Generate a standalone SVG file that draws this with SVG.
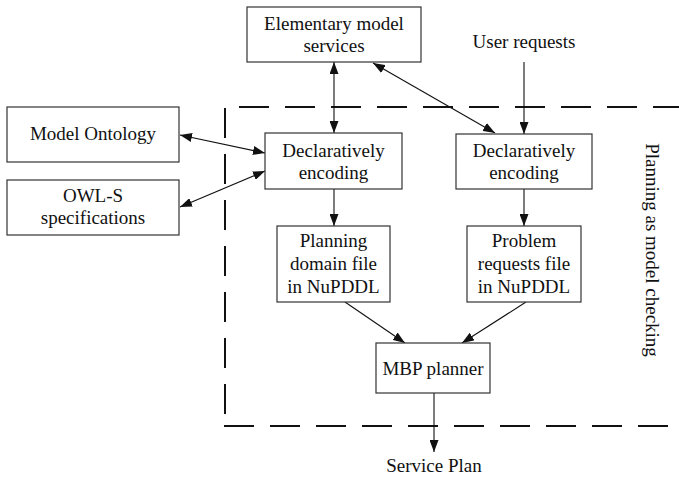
<svg xmlns="http://www.w3.org/2000/svg" width="679" height="479" viewBox="0 0 679 479">
<style>
.box{fill:#fff;stroke:#333;stroke-width:1.2}
text{font-family:"Liberation Serif","Times New Roman",serif;font-size:19px;fill:#111;text-anchor:middle}
.conn{stroke:#111;stroke-width:1.1;fill:none}
.dash{stroke:#111;stroke-width:2;fill:none;stroke-dasharray:30 16}
</style>
<defs>
<marker id="ah" markerUnits="userSpaceOnUse" viewBox="0 0 12 9" refX="12" refY="4.5" markerWidth="12" markerHeight="9" orient="auto-start-reverse">
<path d="M0,0 L12,4.5 L0,9 z" fill="#111"/>
</marker>
</defs>
<rect width="679" height="479" fill="#fff"/>
<g id="boundary">
<line class="dash" x1="239" y1="107" x2="679" y2="107"/>
<line class="dash" x1="225" y1="108" x2="225" y2="420"/>
<line class="dash" x1="224" y1="426" x2="679" y2="426"/>
<text transform="translate(646,250) rotate(90)">Planning as model checking</text>
</g>
<g id="connectors">
<line class="conn" x1="334" y1="62" x2="334" y2="133" marker-start="url(#ah)" marker-end="url(#ah)"/>
<line class="conn" x1="373" y1="63" x2="495" y2="133" marker-start="url(#ah)" marker-end="url(#ah)"/>
<line class="conn" x1="524" y1="62" x2="524" y2="134" marker-end="url(#ah)"/>
<line class="conn" x1="180" y1="135" x2="265" y2="153" marker-start="url(#ah)" marker-end="url(#ah)"/>
<line class="conn" x1="180" y1="207" x2="265" y2="171" marker-start="url(#ah)" marker-end="url(#ah)"/>
<line class="conn" x1="334" y1="189" x2="334" y2="226" marker-end="url(#ah)"/>
<line class="conn" x1="524" y1="189" x2="524" y2="226" marker-end="url(#ah)"/>
<line class="conn" x1="345" y1="302" x2="405" y2="343" marker-end="url(#ah)"/>
<line class="conn" x1="526" y1="302" x2="462" y2="343" marker-end="url(#ah)"/>
<line class="conn" x1="434" y1="393" x2="434" y2="452" marker-end="url(#ah)"/>
</g>
<g id="elementary">
<rect class="box" x="247" y="7" width="174" height="55"/>
<text x="334" y="30">Elementary model</text>
<text x="334" y="52">services</text>
</g>
<g id="user-requests">
<text x="524" y="48">User requests</text>
</g>
<g id="model-ontology">
<rect class="box" x="7" y="107" width="172" height="55"/>
<text x="93" y="140">Model Ontology</text>
</g>
<g id="owl-s">
<rect class="box" x="7" y="180" width="172" height="55"/>
<text x="93" y="202">OWL-S</text>
<text x="93" y="224">specifications</text>
</g>
<g id="decl-left">
<rect class="box" x="265" y="133" width="137" height="56"/>
<text x="333.5" y="157">Declaratively</text>
<text x="333.5" y="179">encoding</text>
</g>
<g id="decl-right">
<rect class="box" x="456" y="134" width="136" height="55"/>
<text x="524" y="157">Declaratively</text>
<text x="524" y="179">encoding</text>
</g>
<g id="planning-domain">
<rect class="box" x="277" y="226" width="113" height="76"/>
<text x="333.5" y="247">Planning</text>
<text x="333.5" y="270">domain file</text>
<text x="333.5" y="293">in NuPDDL</text>
</g>
<g id="problem-requests">
<rect class="box" x="467" y="226" width="114" height="76"/>
<text x="524" y="247">Problem</text>
<text x="524" y="270">requests file</text>
<text x="524" y="293">in NuPDDL</text>
</g>
<g id="mbp">
<rect class="box" x="376" y="343" width="114" height="50"/>
<text x="433" y="375">MBP planner</text>
</g>
<g id="service-plan">
<text x="434" y="472">Service Plan</text>
</g>
</svg>
